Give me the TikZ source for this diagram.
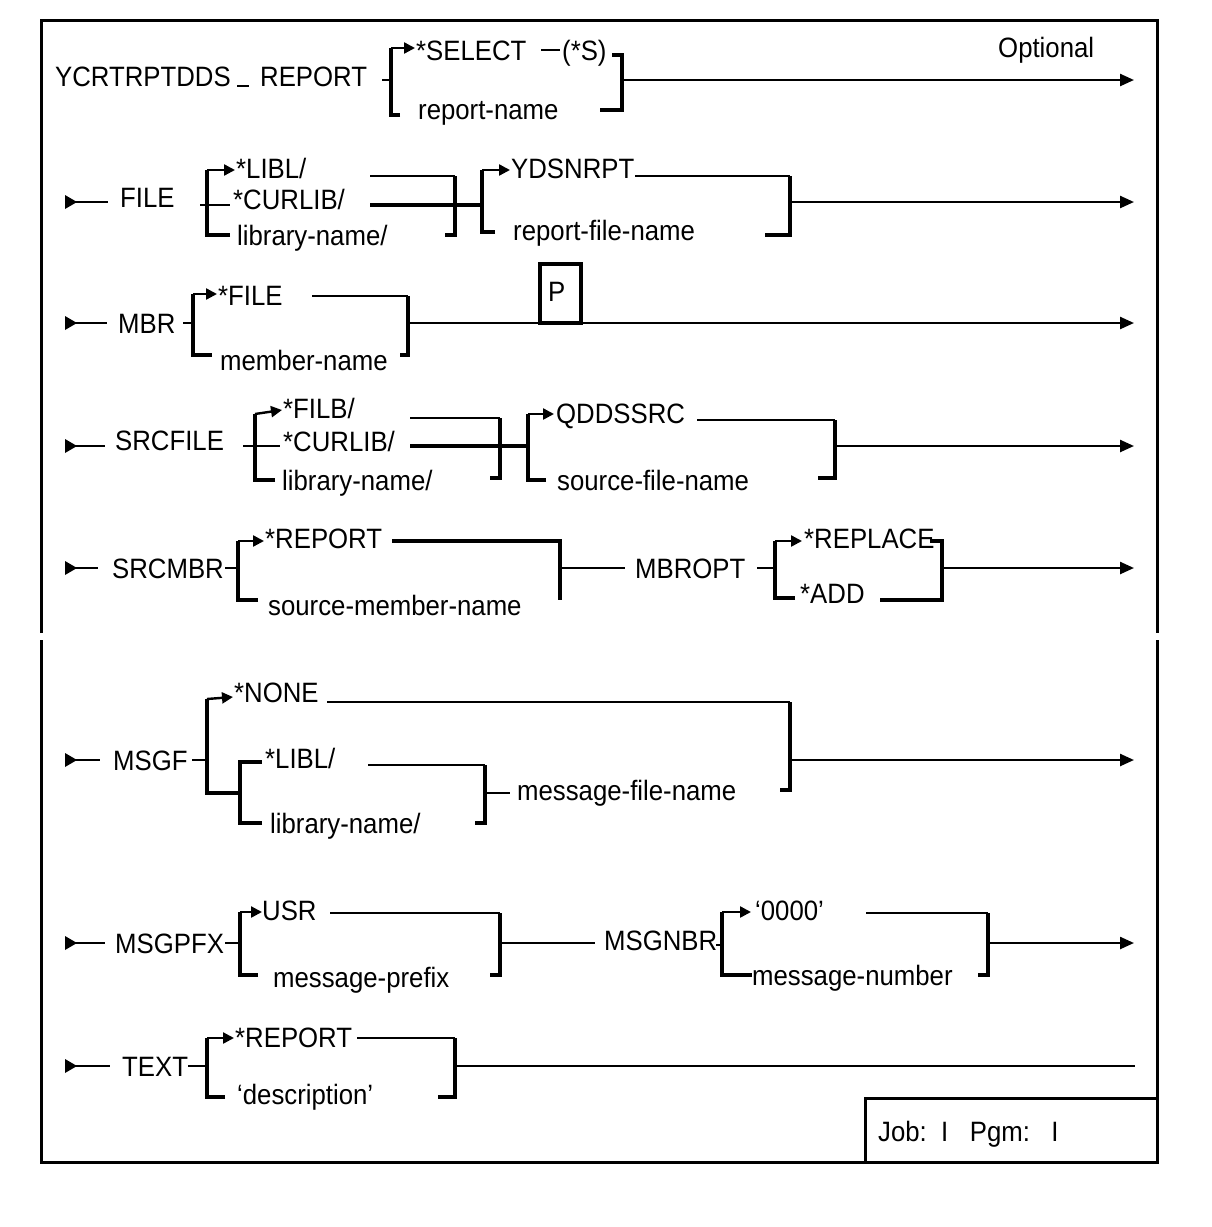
\documentclass[tikz,border=0pt]{standalone}
\usepackage{fontspec}
\newfontfamily\diagfont[FakeStretch=0.92]{Liberation Sans}
\usetikzlibrary{arrows.meta}
\begin{document}
\begin{tikzpicture}[x=1pt,y=-1pt,
  t/.style={anchor=base west,inner sep=0pt,font=\diagfont\fontsize{28}{30}\selectfont},
  ln/.style={line width=2.4pt},
  thk/.style={line width=3.6pt},
  frm/.style={line width=3pt},
  arr/.style={ln,-{Triangle[length=14pt,width=12pt]}},
  arrs/.style={ln,-{Triangle[length=11pt,width=11pt]}},
  st/.style={fill=black}]
\useasboundingbox (0,0) rectangle (1211,1227);
% frame
\draw[frm] (41,633) -- (41,20) -- (1157,20) -- (1157,633);
\draw[frm] (41,640) -- (41,1162) -- (1157,1162) -- (1157,640);
\draw[frm] (865,1162) -- (865,1098) -- (1157,1098);
\node[t] (job) at (878,1141) {Job:\ \ I\ \ \ Pgm:\ \ \ I};
% row 1
\node[t] (cmd) at (55,86) {YCRTRPTDDS};
\draw[ln] (237,86) -- (249,86);
\node[t] (kwrep) at (260,86) {REPORT};
\draw[ln] (382,80) -- (391,80);
\draw[thk] (400,115) -- (391,115) -- (391,48);
\draw[arrs] (391,48) -- (415,48);
\node[t] (sel) at (416,60) {*SELECT};
\draw[ln] (541,50) -- (560,50);
\node[t] (sels) at (562,60) {(*S)};
\draw[thk] (612,55) -- (622,55) -- (622,110) -- (600,110);
\node[t] (rname) at (418,119) {report-name};
\draw[arr] (622,80) -- (1134,80);
\node[t] (opt) at (998,57) {Optional};
% row 2 FILE
\fill[st] (65,195) -- (77,202) -- (65,209) -- cycle;
\draw[ln] (74,202) -- (108,202);
\node[t] (file) at (120,207) {FILE};
\draw[thk] (230,235) -- (207,235) -- (207,170);
\draw[arrs] (207,170) -- (235,170);
\draw[ln] (200,205) -- (230,205);
\node[t] (libl1) at (236,178) {*LIBL/};
\node[t] (curlib1) at (233,209) {*CURLIB/};
\node[t] (lib1) at (237,245) {library-name/};
\draw[ln] (370,176) -- (455,176);
\draw[thk] (370,205) -- (482,205);
\draw[thk] (455,176) -- (455,235) -- (445,235);
\draw[thk] (495,232) -- (482,232) -- (482,170);
\draw[arrs] (482,170) -- (510,170);
\node[t] (ydsn) at (511,178) {YDSNRPT};
\draw[ln] (635,176) -- (790,176);
\draw[thk] (790,176) -- (790,235) -- (765,235);
\node[t] (rfn) at (513,240) {report-file-name};
\draw[arr] (790,202) -- (1134,202);
% row 3 MBR
\fill[st] (65,316) -- (77,323) -- (65,330) -- cycle;
\draw[ln] (74,323) -- (107,323);
\node[t] (mbr) at (118,333) {MBR};
\draw[ln] (183,323) -- (193,323);
\draw[thk] (212,355) -- (193,355) -- (193,294);
\draw[arrs] (193,294) -- (217,294);
\node[t] (sfile) at (218,305) {*FILE};
\draw[ln] (312,296) -- (408,296);
\draw[thk] (408,296) -- (408,355) -- (400,355);
\node[t] (mname) at (220,370) {member-name};
\draw[arr] (408,323) -- (1134,323);
\draw[line width=4.5pt,fill=white] (540,264) rectangle (581,323);
\node[t] (pbox) at (548,301) {P};
% row 4 SRCFILE
\fill[st] (65,439) -- (77,446) -- (65,453) -- cycle;
\draw[ln] (74,446) -- (105,446);
\node[t] (srcfile) at (115,450) {SRCFILE};
\draw[ln] (243,446) -- (280,446);
\draw[thk] (275,480) -- (255,480) -- (255,414);
\draw[arrs] (255,414) -- (282,410);
\node[t] (filb) at (283,418) {*FILB/};
\node[t] (curlib2) at (283,451) {*CURLIB/};
\node[t] (lib2) at (282,490) {library-name/};
\draw[ln] (410,418) -- (500,418);
\draw[thk] (410,446) -- (528,446);
\draw[thk] (500,418) -- (500,478) -- (490,478);
\draw[thk] (546,480) -- (528,480) -- (528,414);
\draw[arrs] (528,414) -- (554,414);
\node[t] (qdds) at (556,423) {QDDSSRC};
\draw[ln] (697,420) -- (835,420);
\draw[thk] (835,420) -- (835,478) -- (818,478);
\node[t] (sfn) at (557,490) {source-file-name};
\draw[arr] (835,446) -- (1134,446);
% row 5 SRCMBR
\fill[st] (65,561) -- (77,568) -- (65,575) -- cycle;
\draw[ln] (74,568) -- (98,568);
\node[t] (srcmbr) at (112,578) {SRCMBR};
\draw[ln] (225,568) -- (238,568);
\draw[thk] (258,600) -- (238,600) -- (238,541);
\draw[arrs] (238,541) -- (264,541);
\node[t] (rep1) at (265,548) {*REPORT};
\draw[thk] (392,541) -- (560,541) -- (560,600);
\node[t] (smn) at (268,615) {source-member-name};
\draw[ln] (560,568) -- (625,568);
\node[t] (mbropt) at (635,578) {MBROPT};
\draw[ln] (757,568) -- (775,568);
\draw[thk] (795,598) -- (775,598) -- (775,541);
\draw[arrs] (775,541) -- (802,541);
\node[t] (repl) at (804,548) {*REPLACE};
\draw[thk] (930,541) -- (942,541) -- (942,600) -- (880,600);
\node[t] (add) at (800,603) {*ADD};
\draw[arr] (942,568) -- (1134,568);
% row 6 MSGF
\fill[st] (65,753) -- (77,760) -- (65,767) -- cycle;
\draw[ln] (74,760) -- (100,760);
\node[t] (msgf) at (113,770) {MSGF};
\draw[ln] (192,760) -- (207,760);
\draw[thk] (240,793) -- (207,793) -- (207,699);
\draw[arrs] (207,699) -- (233,697);
\node[t] (none) at (234,702) {*NONE};
\draw[ln] (327,702) -- (790,702);
\draw[thk] (790,702) -- (790,790) -- (780,790);
\draw[thk] (262,823) -- (240,823) -- (240,762) -- (262,762);
\node[t] (libl2) at (265,768) {*LIBL/};
\draw[ln] (368,765) -- (485,765);
\draw[thk] (485,765) -- (485,823) -- (475,823);
\node[t] (lib3) at (270,833) {library-name/};
\draw[ln] (485,793) -- (510,793);
\node[t] (mfn) at (517,800) {message-file-name};
\draw[arr] (790,760) -- (1134,760);
% row 7 MSGPFX
\fill[st] (65,936) -- (77,943) -- (65,950) -- cycle;
\draw[ln] (74,943) -- (105,943);
\node[t] (msgpfx) at (115,953) {MSGPFX};
\draw[ln] (225,943) -- (240,943);
\draw[thk] (258,975) -- (240,975) -- (240,912);
\draw[arrs] (240,912) -- (262,912);
\node[t] (usr) at (262,920) {USR};
\draw[ln] (330,913) -- (500,913);
\draw[thk] (500,913) -- (500,975) -- (490,975);
\node[t] (mpfx) at (273,987) {message-prefix};
\draw[ln] (500,943) -- (595,943);
\node[t] (msgnbr) at (604,950) {MSGNBR};
\draw[ln] (716,945) -- (722,945);
\draw[thk] (752,975) -- (722,975) -- (722,912);
\draw[arrs] (722,912) -- (751,912);
\node[t] (zeros) at (755,920) {‘0000’};
\draw[ln] (866,913) -- (988,913);
\draw[thk] (988,913) -- (988,975) -- (978,975);
\node[t] (mnum) at (752,985) {message-number};
\draw[arr] (988,943) -- (1134,943);
% row 8 TEXT
\fill[st] (65,1059) -- (77,1066) -- (65,1073) -- cycle;
\draw[ln] (74,1066) -- (110,1066);
\node[t] (text) at (122,1076) {TEXT};
\draw[ln] (188,1066) -- (207,1066);
\draw[thk] (225,1097) -- (207,1097) -- (207,1038);
\draw[arrs] (207,1038) -- (234,1038);
\node[t] (rep2) at (235,1047) {*REPORT};
\draw[ln] (357,1038) -- (455,1038);
\draw[thk] (455,1038) -- (455,1097) -- (438,1097);
\node[t] (desc) at (237,1104) {‘description’};
\draw[ln] (455,1066) -- (1135,1066);
\end{tikzpicture}
\end{document}
